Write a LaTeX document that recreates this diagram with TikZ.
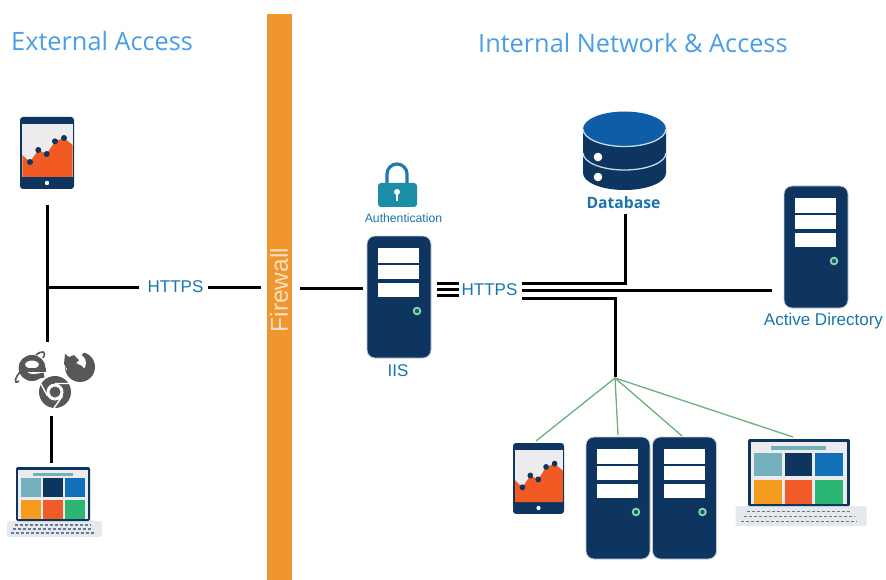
\documentclass[tikz,border=0pt]{standalone}
\usepackage{fontspec}
\setmainfont{Liberation Sans}
\newfontfamily\titlefont{Open Sans}
\definecolor{navy}{HTML}{0E3560}
\definecolor{labelblue}{HTML}{1C74AC}
\definecolor{titleblue}{HTML}{4A9DE6}
\definecolor{fwall}{HTML}{F0962E}
\definecolor{wire}{HTML}{6DB07C}
\definecolor{ledg}{HTML}{8FD3B0}
\definecolor{chartbg}{HTML}{ECECEE}
\definecolor{chartor}{HTML}{F15A22}
\definecolor{brgrey}{HTML}{555759}
\definecolor{dbtop}{HTML}{0F5DA6}
\definecolor{dbline}{HTML}{C6DAE4}
\definecolor{lockteal}{HTML}{1C8DA6}
\definecolor{lockarc}{HTML}{2578AE}
\definecolor{tileA}{HTML}{74B0BC}
\definecolor{tileB}{HTML}{0E3560}
\definecolor{tileC}{HTML}{1170B8}
\definecolor{tileD}{HTML}{F39C1F}
\definecolor{tileE}{HTML}{F15A29}
\definecolor{tileF}{HTML}{2BB673}
\definecolor{basegrey}{HTML}{E6E9EB}
\tikzset{
  link/.style={line width=3pt,black,line cap=butt},
  greenwire/.style={line width=1.3pt,wire},
  label/.style={text=labelblue,inner sep=0pt,anchor=center},
  title/.style={text=titleblue,inner sep=0pt,anchor=west,font=\titlefont\fontsize{25.3}{25.3}\selectfont},
  serverbody/.style={fill=navy,rounded corners=8pt,minimum width=64pt,minimum height=122pt,inner sep=0pt,draw=navy!25,line width=.8pt,outer sep=0pt},
  slot/.style={fill=white,draw=none},
  firebar/.style={fill=fwall,draw=none,minimum width=25pt,minimum height=566pt,inner sep=0pt,outer sep=0pt},
}
% server: top-left corner at #2,#3
\newcommand{\serverat}[3]{%
  \node[serverbody] (#1) at (#2+32,#3+61) {};
  \begin{scope}[shift={(#2,#3)}]
    \fill[slot] (11,12) rectangle (52,27);
    \fill[slot] (11,29) rectangle (52,43);
    \fill[slot] (11,47) rectangle (52,61);
    \fill[ledg] (50,75) circle[radius=4.3pt];
    \fill[black!20!teal] (50,75) circle[radius=2.2pt];
  \end{scope}}
% tablet: top-left corner, scales
\newcommand{\tabletat}[5]{%
  \begin{scope}[shift={(#2,#3)},xscale=#4,yscale=#5]
    \coordinate (#1) at (27,36);
    \fill[navy,rounded corners=3pt] (0,0) rectangle (54,72);
    \fill[chartbg] (2.3,7) rectangle (52.7,60);
    \fill[chartor] (2.3,38) -- (10,45) -- (18.3,33) -- (26.7,37) -- (35,24.3) -- (44,21) -- (52.7,28) -- (52.7,60) -- (2.3,60) -- cycle;
    \foreach \px/\py in {10/45,18.3/33,26.7/37,35/24.3,44/21}
      \fill[navy] (\px,\py) circle[radius=3pt];
    \fill[white] (27,66) circle[radius=2.2pt];
  \end{scope}}
% laptop: screen top-left corner, scales
\newcommand{\laptopat}[5]{%
  \begin{scope}[shift={(#2,#3)},xscale=#4,yscale=#5]
    \coordinate (#1) at (37,26);
    \fill[basegrey,rounded corners=2pt] (-9,54) rectangle (86,70);
    \foreach \ky/\kx in {58/-1,62/-3,66/-5}
      \draw[navy!65,line width=1.1pt,dash pattern=on 3pt off 2pt] (\kx,\ky) -- (74-\kx,\ky);
    \fill[navy,rounded corners=2pt] (0,0) rectangle (74,54);
    \fill[chartbg] (2,2.5) rectangle (72,52);
    \fill[tileA] (4.7,11) rectangle (24.7,30);
    \fill[tileB] (26.7,11) rectangle (46.7,30);
    \fill[tileC] (48.7,11) rectangle (69,30);
    \fill[tileD] (4.7,33) rectangle (24.7,52);
    \fill[tileE] (26.7,33) rectangle (46.7,52);
    \fill[tileF] (48.7,33) rectangle (69,52);
    \fill[tileA] (16.7,6) rectangle (56.7,8.5);
  \end{scope}}
\begin{document}
\begin{tikzpicture}[x=1pt,y=-1pt]
\useasboundingbox (0,0) rectangle (886,580);
\fill[white] (0,0) rectangle (886,580);

% titles
\node[title] (ext) at (11,41) {External Access};
\node[title] (int) at (478,43) {Internal Network \& Access};

% firewall
\node[firebar] (fw) at (279.5,297) {};
\node[rotate=90,text=white!70!fwall,inner sep=0pt,font=\fontsize{24.5}{24.5}\selectfont] (fwtext) at (279,290) {Firewall};

% left icons
\tabletat{tabA}{20}{117}{1}{1}
\laptopat{lapA}{16}{467}{1}{1}

% browser icons
\begin{scope}
  % IE
  \coordinate (ie) at (32,368);
  \draw[brgrey,line width=1.6pt] (19,381) .. controls (13,385) and (15,377) .. (21,371);
  \draw[brgrey,line width=1.6pt] (36,355) .. controls (42,350) and (47,351) .. (43,358);
  \fill[brgrey,even odd rule] (32,368) ellipse[x radius=13.5pt,y radius=13pt]
     (32,364.5) ellipse[x radius=7pt,y radius=4pt];
  \fill[white] (25,371.5) rectangle (46,376);
  \fill[brgrey] (25.5,368) rectangle (45.5,371.5);
  \draw[brgrey,line width=5pt] (24,372) .. controls (27,378) and (34,377) .. (44,375);
  % Firefox
  \coordinate (ff) at (80,367);
  \fill[brgrey] (80,367) circle[radius=15pt];
  \fill[white] (77,363) circle[radius=9pt];
  \fill[white] (63,352) -- (84,352) -- (78,360) -- (66,370) -- cycle;
  \fill[brgrey] (65,354) -- (69,357) -- (74,355) -- (79,360) -- (76,363) -- (82,366) -- (85,370) -- (78,374) -- (69,372) -- (64,364) -- cycle;
  % Chrome
  \coordinate (chr) at (55,392);
  \fill[brgrey] (55,392) circle[radius=16pt];
  \fill[white] (55,392) circle[radius=8.5pt];
  \fill[brgrey] (55,392) circle[radius=5.5pt];
  \draw[white,line width=1.4pt] (55,383.5) -- (70,383.5) (47.5,396) -- (41,384) (62.5,396) -- (54,408);
\end{scope}

% left links
\coordinate (tabEnd) at (47,205);
\coordinate (brTop) at (47,342);
\coordinate (brBot) at (51,416);
\coordinate (lapTop) at (51,463);
\coordinate (junL) at (47,287);
\coordinate (httpsLa) at (139,287);
\coordinate (httpsLb) at (208,287);
\coordinate (fwL) at (261,287);
\draw[link] (tabEnd) -- (brTop);
\draw[link] (brBot) -- (lapTop);
\node[label,font=\fontsize{17}{17}\selectfont] (https1) at (175.5,287) {HTTPS};
\draw[link] (junL) -- (httpsLa);
\draw[link] (httpsLb) -- (fwL);
\coordinate (fwR) at (300,288);
\coordinate (iisW) at (363,288);
\draw[link] (fwR) -- (iisW);

% lock
\draw[lockarc,line width=3.2pt] (387,184) -- (387,174) arc[start angle=180,end angle=0,radius=10pt] -- (407,184);
\fill[lockteal,rounded corners=3pt] (378,183) rectangle (417,207);
\fill[white] (397,192) circle[radius=3pt];
\fill[white] (395.7,193) rectangle (398.3,201);
\node[label,font=\fontsize{12.2}{12.2}\selectfont] (auth) at (403.5,218) {Authentication};

% IIS
\serverat{iis}{367}{236}
\node[label,font=\fontsize{17}{17}\selectfont] (iislab) at (398,371) {IIS};

% HTTPS bus
\node[label,font=\fontsize{17}{17}\selectfont] (https2) at (489.5,289.5) {HTTPS};
\foreach \yy in {283.5,289.5,295.5}
  \draw[line width=3.2pt,black] (437,\yy) -- (459,\yy);

% database
\begin{scope}
  \fill[navy] (583,129) -- (583,173) arc[start angle=180,end angle=360,x radius=41.5pt,y radius=17pt] -- (666,129) -- cycle;
  \draw[dbline,line width=1.3pt] (583,153) arc[start angle=180,end angle=360,x radius=41.5pt,y radius=17pt];
  \fill[dbtop] (624.5,129) ellipse[x radius=41.5pt,y radius=17.5pt];
  \draw[dbline,line width=1.3pt] (583,129) arc[start angle=180,end angle=360,x radius=41.5pt,y radius=17.5pt];
  \fill[white] (598,157) circle[radius=4.3pt];
  \fill[white] (598,177) circle[radius=4.3pt];
\end{scope}
\node[label,font=\titlefont\bfseries\fontsize{15.7}{15.7}\selectfont] (db) at (623.5,202.5) {Database};

% active directory
\serverat{ad}{784}{186}
\node[label,font=\fontsize{17}{17}\selectfont] (adlab) at (823.5,321) {Active Directory};

% bus links
\coordinate (dbEnd) at (625,214);
\coordinate (busA) at (522,283.5);
\coordinate (busB) at (522,290.5);
\coordinate (busC) at (522,298);
\coordinate (adW) at (772,290.5);
\coordinate (hub) at (615,377);
\draw[link] (busA) -| (dbEnd);
\draw[link] (busB) -- (adW);
\draw[link] (busC) -| (hub);

% lower group
\tabletat{tabB}{513}{443}{.945}{.985}
\serverat{srvA}{586}{437}
\serverat{srvB}{652.5}{437}
\laptopat{lapB}{748}{439}{1.378}{1.245}

\coordinate (hubG) at (615,378);
\coordinate (endTab) at (536,441);
\coordinate (endA) at (618,435);
\coordinate (endB) at (682,436);
\coordinate (endLap) at (793,437);
\draw[greenwire] (hubG) -- (endTab);
\draw[greenwire] (hubG) -- (endA);
\draw[greenwire] (hubG) -- (endB);
\draw[greenwire] (hubG) -- (endLap);
\end{tikzpicture}
\end{document}
